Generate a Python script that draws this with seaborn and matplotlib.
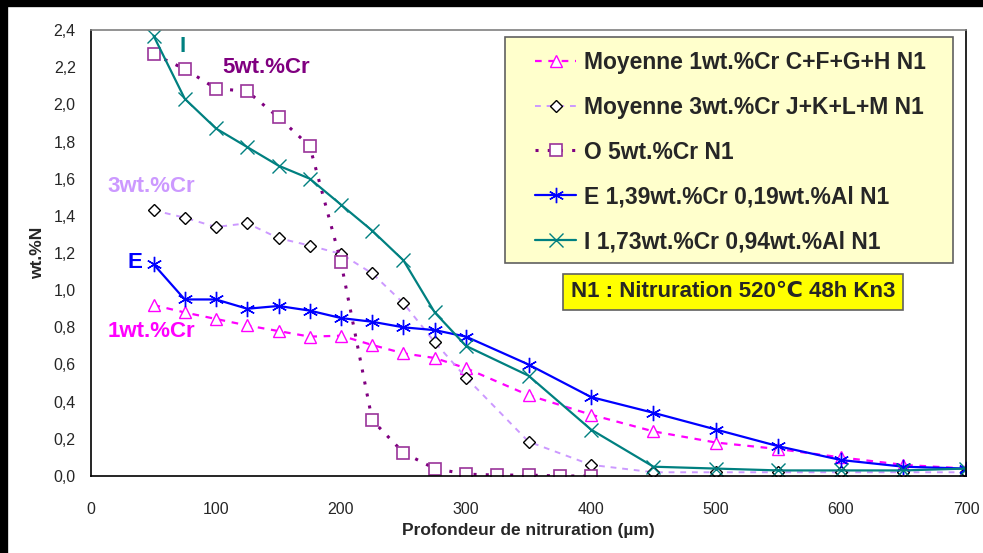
import numpy as np
import pandas as pd
import seaborn as sns
import matplotlib.pyplot as plt
from matplotlib.ticker import MultipleLocator, FuncFormatter
from matplotlib.lines import Line2D
from matplotlib.patches import Rectangle

# profondeur (µm)
depth = [50, 75, 100, 125, 150, 175, 200, 225, 250, 275, 300, 350, 400, 450, 500, 550, 600, 650, 700]

moy_1cr = [0.92, 0.88, 0.845, 0.81, 0.78, 0.75, 0.755, 0.705, 0.66, 0.635, 0.58,
           0.435, 0.33, 0.24, 0.18, 0.145, 0.10, 0.06, 0.04]
moy_3cr = [1.43, 1.39, 1.34, 1.36, 1.28, 1.24, 1.195, 1.09, 0.93, 0.72, 0.53,
           0.185, 0.06, 0.02, 0.02, 0.02, 0.02, 0.02, 0.02]
e_al = [1.14, 0.95, 0.95, 0.90, 0.915, 0.89, 0.85, 0.83, 0.80, 0.785, 0.75,
        0.60, 0.425, 0.34, 0.25, 0.16, 0.086, 0.05, 0.04]
i_al = [2.37, 2.03, 1.87, 1.77, 1.67, 1.60, 1.46, 1.32, 1.16, 0.88, 0.70,
        0.54, 0.25, 0.05, 0.04, 0.03, 0.03, 0.03, 0.04]

depth_o = [50, 75, 100, 125, 150, 175, 200, 225, 250, 275, 300, 325, 350, 375, 400]
o_5cr = [2.27, 2.19, 2.085, 2.07, 1.93, 1.775, 1.15, 0.30, 0.125, 0.04, 0.01, 0.005, 0.005, 0.0, 0.0]

labels = ["Moyenne 1wt.%Cr C+F+G+H N1", "Moyenne 3wt.%Cr J+K+L+M N1", "O 5wt.%Cr N1",
          "E 1,39wt.%Cr 0,19wt.%Al N1", "I 1,73wt.%Cr 0,94wt.%Al N1"]

sns.set_style("white")
plt.rcParams['font.family'] = ['Liberation Sans', 'DejaVu Sans']

fig = plt.figure(figsize=(9.83, 5.53), dpi=100)
ax = fig.add_axes([91 / 983, 77 / 553, 875 / 983, 446 / 553])

sns.lineplot(x=depth, y=moy_1cr, ax=ax, color="#FF00FF", linestyle=(0, (3, 3)), lw=1.6,
             marker="^", ms=8, mfc="white", mec="#FF00FF", mew=1.0, label=labels[0])
sns.lineplot(x=depth, y=moy_3cr, ax=ax, color="#CC99FF", linestyle=(0, (3, 3)), lw=1.4,
             marker="D", ms=6, mfc="white", mec="black", mew=1.0, label=labels[1])
sns.lineplot(x=depth_o, y=o_5cr, ax=ax, color="#800080", linestyle=(0, (1, 3)), lw=2.2,
             marker="s", ms=8, mfc="white", mec="#993399", mew=1.2, label=labels[2])
sns.lineplot(x=depth, y=e_al, ax=ax, color="#0000FF", linestyle="-", lw=1.6,
             marker=(6, 2, 0), ms=11, mec="#0000FF", mew=1.0, label=labels[3])
sns.lineplot(x=depth, y=i_al, ax=ax, color="#008080", linestyle="-", lw=1.6,
             marker="x", ms=10, mec="#008080", mew=1.0, label=labels[4])

ax.set_xlim(0, 700)
ax.set_ylim(0, 2.4)
ax.xaxis.set_major_locator(MultipleLocator(100))
ax.xaxis.set_minor_locator(MultipleLocator(20))
ax.yaxis.set_major_locator(MultipleLocator(0.2))
ax.yaxis.set_minor_locator(MultipleLocator(0.1))
ax.yaxis.set_major_formatter(FuncFormatter(lambda v, p: f"{v:.1f}".replace(".", ",")))
ax.tick_params(axis="both", which="major", direction="inout", length=10, width=1,
               labelsize=11.5, color="black", pad=6)
ax.tick_params(axis="both", which="minor", direction="out", length=5, width=1, color="black")
ax.tick_params(axis="x", pad=14)

for s in ["left", "bottom", "right"]:
    ax.spines[s].set_color("black")
    ax.spines[s].set_linewidth(1.2)
ax.spines["top"].set_color("#808080")
ax.spines["top"].set_linewidth(1.2)

ax.set_xlabel("Profondeur de nitruration (µm)", fontsize=12.5, fontweight="bold", labelpad=4)
ax.set_ylabel("wt.%N", fontsize=12.5, fontweight="bold", labelpad=6)

# cadre de la légende
ax.add_patch(Rectangle((0.473, 0.478), 0.512, 0.506, transform=ax.transAxes,
                       facecolor="#FFFFCC", edgecolor="#606060", lw=1.2, zorder=4))
leg = ax.legend(loc="upper left", bbox_to_anchor=(0.5074, 0.953), frameon=False,
                fontsize=16.5, labelspacing=0.95, handlelength=1.8,
                borderpad=0, handletextpad=0.35, borderaxespad=0)
leg.set_zorder(5)
for t in leg.get_texts():
    t.set_fontweight("bold")

ax.text(0.734, 0.4126, "N1 : Nitruration 520℃ 48h Kn3", transform=ax.transAxes,
        ha="center", va="center", fontsize=16, fontweight="bold", zorder=5,
        bbox=dict(boxstyle="square,pad=0.35", facecolor="#FFFF00", edgecolor="#606060", lw=1.2))

ax.text(73, 2.31, "I", color="#008080", fontsize=16, fontweight="bold", ha="center", va="center")
ax.text(105, 2.20, "5wt.%Cr", color="#800080", fontsize=16, fontweight="bold", ha="left", va="center")
ax.text(13, 1.56, "3wt.%Cr", color="#CC99FF", fontsize=16, fontweight="bold", ha="left", va="center")
ax.text(35, 1.15, "E", color="#0000FF", fontsize=16, fontweight="bold", ha="center", va="center")
ax.text(13, 0.775, "1wt.%Cr", color="#FF00FF", fontsize=16, fontweight="bold", ha="left", va="center")

# cadre epais gauche/haut
fig.add_artist(Line2D([0.004, 0.004], [0, 1], transform=fig.transFigure, color="black", lw=6))
fig.add_artist(Line2D([0, 1], [0.995, 0.995], transform=fig.transFigure, color="black", lw=6))

fig.savefig("out.png", dpi=100)
